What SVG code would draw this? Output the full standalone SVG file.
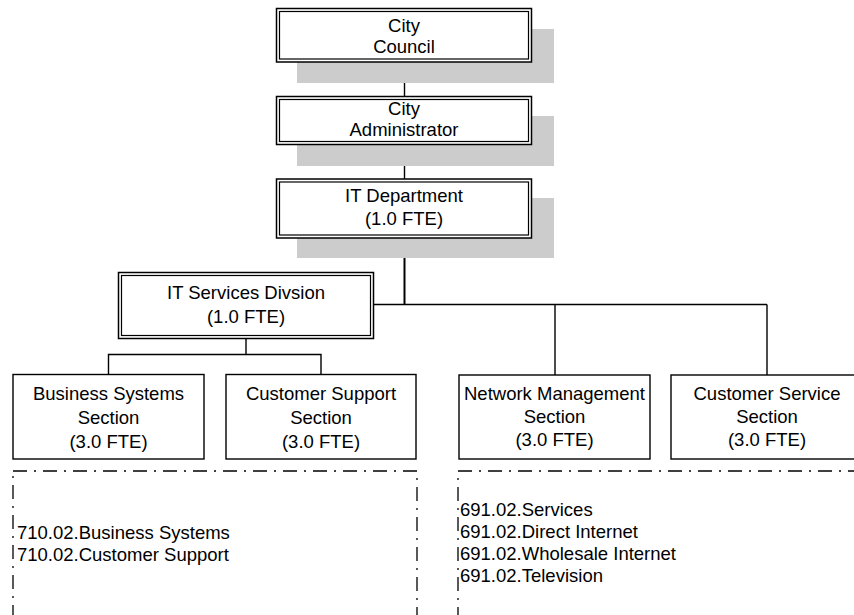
<svg xmlns="http://www.w3.org/2000/svg" width="854" height="615" viewBox="0 0 854 615">
<style>
  text { font-family: "Liberation Sans", Arial, sans-serif; font-size: 18.5px; fill: #000; }
  .c { text-anchor: middle; }
  .shadow { fill: #cccccc; stroke: none; }
  .outer { fill: #fff; stroke: #000; stroke-width: 1.5; }
  .inner { fill: none; stroke: #000; stroke-width: 1.2; }
  .box { fill: #fff; stroke: #000; stroke-width: 1.4; }
  .conn { fill: none; stroke: #000; stroke-width: 1.4; }
  .dd { fill: none; stroke: #000; stroke-width: 1.3; stroke-dasharray: 14 7 2 7; }
</style>
<rect x="0" y="0" width="854" height="615" fill="#fff"/>

<g id="connectors">
  <line class="conn" x1="404.5" y1="62" x2="404.5" y2="97"/>
  <line class="conn" x1="404.5" y1="144" x2="404.5" y2="179"/>
  <line class="conn" x1="404.5" y1="238" x2="404.5" y2="305" style="stroke-width:2"/>
  <polyline class="conn" points="374,304.5 767,304.5"/>
  <line class="conn" x1="555" y1="304.5" x2="555" y2="375"/>
  <line class="conn" x1="767" y1="304.5" x2="767" y2="375"/>
  <line class="conn" x1="246" y1="339" x2="246" y2="354"/>
  <polyline class="conn" points="108.5,374 108.5,354.5 321,354.5 321,374"/>
</g>

<g id="city-council">
  <rect class="shadow" x="297" y="29" width="257" height="54"/>
  <rect class="outer" x="276.5" y="8.5" width="255" height="53.5"/>
  <rect class="inner" x="279.5" y="11.5" width="249" height="47.5"/>
  <text class="c" x="404" y="32">City</text>
  <text class="c" x="404" y="53">Council</text>
</g>

<g id="city-administrator">
  <rect class="shadow" x="297" y="116" width="257" height="50"/>
  <rect class="outer" x="276.5" y="96.5" width="255" height="48"/>
  <rect class="inner" x="279.5" y="99.5" width="249" height="42"/>
  <text class="c" x="404" y="115">City</text>
  <text class="c" x="404" y="136">Administrator</text>
</g>

<g id="it-department">
  <rect class="shadow" x="297" y="198" width="257" height="60"/>
  <rect class="outer" x="276.5" y="179" width="255" height="59"/>
  <rect class="inner" x="279.5" y="182" width="249" height="53"/>
  <text class="c" x="404" y="202">IT Department</text>
  <text class="c" x="404" y="225">(1.0 FTE)</text>
</g>

<g id="it-services-division">
  <rect class="outer" x="118.5" y="272.5" width="255" height="66"/>
  <rect class="inner" x="121.5" y="275.5" width="249" height="60"/>
  <text class="c" x="246" y="299">IT Services Divsion</text>
  <text class="c" x="246" y="323">(1.0 FTE)</text>
</g>

<g id="business-systems">
  <rect class="box" x="13" y="374.5" width="191" height="84.5"/>
  <text class="c" x="108.5" y="400">Business Systems</text>
  <text class="c" x="108.5" y="424">Section</text>
  <text class="c" x="108.5" y="448">(3.0 FTE)</text>
</g>

<g id="customer-support">
  <rect class="box" x="226" y="374.5" width="190" height="84.5"/>
  <text class="c" x="321" y="400">Customer Support</text>
  <text class="c" x="321" y="424">Section</text>
  <text class="c" x="321" y="448">(3.0 FTE)</text>
</g>

<g id="network-management">
  <rect class="box" x="459" y="375" width="191" height="84"/>
  <text class="c" x="554.5" y="400">Network Management</text>
  <text class="c" x="554.5" y="423">Section</text>
  <text class="c" x="554.5" y="446">(3.0 FTE)</text>
</g>

<g id="customer-service">
  <rect class="box" x="671" y="375" width="192" height="84"/>
  <text class="c" x="767" y="400">Customer Service</text>
  <text class="c" x="767" y="423">Section</text>
  <text class="c" x="767" y="446">(3.0 FTE)</text>
</g>

<g id="budget-left">
  <rect class="dd" x="13" y="471" width="404" height="180"/>
  <text x="17" y="539">710.02.Business Systems</text>
  <text x="17" y="561">710.02.Customer Support</text>
</g>

<g id="budget-right">
  <rect class="dd" x="458" y="471" width="420" height="180"/>
  <text x="460" y="516">691.02.Services</text>
  <text x="460" y="538">691.02.Direct Internet</text>
  <text x="460" y="560">691.02.Wholesale Internet</text>
  <text x="460" y="582">691.02.Television</text>
</g>
</svg>
